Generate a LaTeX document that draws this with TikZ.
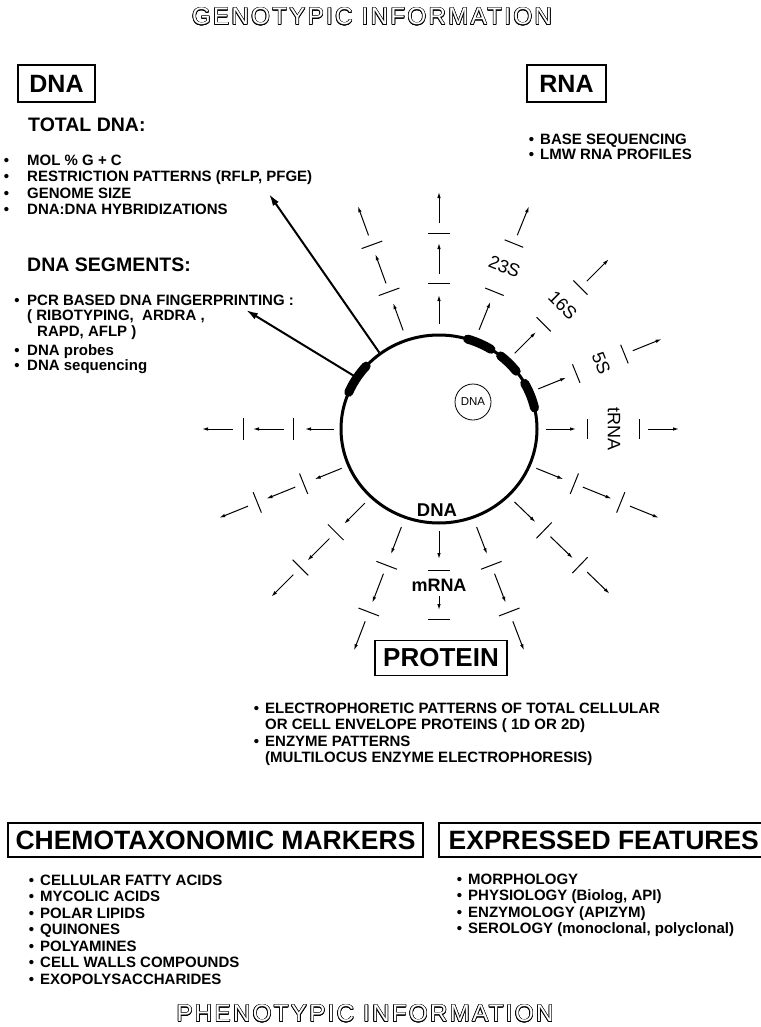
\documentclass[tikz,border=0pt]{standalone}
\usepackage{fontspec}
\setmainfont{Liberation Sans}
\newfontfamily\outlinefont[LetterSpace=10]{Liberation Sans}
\usepackage{contour}
\contourlength{0.6pt}
\usetikzlibrary{arrows.meta, shapes.geometric}

\newcommand{\fsz}[2]{\fontsize{#1}{#2}\selectfont}
\newcommand{\itm}[1][6pt]{\llap{\textbullet\hspace{#1}}}
\newcommand{\hollow}[1]{\contour{black}{\textcolor{white}{#1}}}

\begin{document}
\begin{tikzpicture}[
    x=1pt, y=-1pt,
    infotitle/.style={
        inner sep=0pt, font=\outlinefont\fsz{24}{24}},
    headbox/.style={
        rectangle, draw=black, line width=1.6pt, inner sep=0pt,
        minimum height=37pt, font=\bfseries\fsz{25}{25}},
    bigbox/.style={
        headbox, minimum height=34pt, font=\bfseries\fsz{26.5}{26.5}},
    heading/.style={
        anchor=west, inner sep=0pt, font=\bfseries\fsz{19.5}{20}},
    items/.style={
        anchor=north west, inner sep=0pt, align=left,
        font=\bfseries\fsz{15}{16.6}},
    rnalabel/.style={inner sep=0pt, font=\fsz{18}{18}},
    ray/.style={-{Latex[length=6pt,width=3.5pt]}, line width=1pt},
    tick/.style={line width=1pt},
    pointer/.style={-{Latex[length=12pt,width=7pt]}, line width=2pt},
    gene/.style={line width=9pt, line cap=round}
]
\useasboundingbox (0,0) rectangle (760,1027);

%% ── Titles ───────────────────────────────────────────────────────
\node[infotitle] (geno)  at (372,17)   {\hollow{GENOTYPIC INFORMATION}};
\node[infotitle] (pheno) at (365,1014) {\hollow{PHENOTYPIC INFORMATION}};

%% ── DNA column (left) ────────────────────────────────────────────
\node[headbox, minimum width=77pt] (dna) at (56.5,83.5) {DNA};
\node[heading] (total) at (28,124.5) {TOTAL DNA:};
\node[items] (totallist) at (27,154.5)
    {\itm[18pt]MOL \% G + C\\
     \itm[18pt]RESTRICTION PATTERNS (RFLP, PFGE)\\
     \itm[18pt]GENOME SIZE\\
     \itm[18pt]DNA:DNA HYBRIDIZATIONS};
\node[heading] (segments) at (27,265) {DNA SEGMENTS:};
\node[items, font=\bfseries\fsz{15}{15.8}] (seglist) at (27,294.5)
    {\itm[7.5pt]PCR BASED DNA FINGERPRINTING :\\
     ( RIBOTYPING,\ \ ARDRA ,\\
     \hspace*{10pt}RAPD, AFLP )\\[2.5pt]
     \itm[7.5pt]DNA probes\\
     \itm[7.5pt]DNA sequencing};

%% ── RNA (right) ──────────────────────────────────────────────────
\node[headbox, minimum width=79pt] (rna) at (566.5,83.5) {RNA};
\node[items, font=\bfseries\fsz{15}{15}] (rnalist) at (540,133.5)
    {\itm BASE SEQUENCING\\
     \itm LMW RNA PROFILES};

%% ── Chromosome ───────────────────────────────────────────────────
\node[ellipse, draw=black, line width=3pt, inner sep=0pt,
      minimum width=196pt, minimum height=188pt] (chrom) at (439,429) {};
\node[font=\bfseries\fsz{18.5}{18.5}, inner sep=0pt] (chromlabel)
    at (437,510) {DNA};
\node[circle, draw=black, line width=0.8pt, inner sep=0pt,
      minimum size=36pt, font=\fsz{11.5}{12}] (plasmid) at (473,402) {DNA};

%% ── Genes on the chromosome ──────────────────────────────────────
\begin{scope}[shift={(chrom.center)}, y=1pt]
    \draw[gene] (138:98 and 94) arc[start angle=138, end angle=157, x radius=98, y radius=94];
    \draw[gene] (58:98 and 94)  arc[start angle=58,  end angle=73,  x radius=98, y radius=94];
    \draw[gene] (38:98 and 94)  arc[start angle=38,  end angle=51,  x radius=98, y radius=94];
    \draw[gene] (13:98 and 94)  arc[start angle=13,  end angle=29,  x radius=98, y radius=94];
\end{scope}

%% ── Rays without a label ─────────────────────────────────────────
\begin{scope}[shift={(chrom.center)}]
\foreach \a in {90,110,180,202,225,249,291,316,338}{
    \begin{scope}[rotate=\a]
        \draw[ray]  (105,0) -- (134,0);
        \draw[tick] (146,-11) -- (146,11);
        \draw[ray]  (155,0) -- (186,0);
        \draw[tick] (196,-11) -- (196,11);
        \draw[ray]  (206,0) -- (237,0);
    \end{scope}
}

%% ── Rays with an RNA label ───────────────────────────────────────
\foreach \a/\lab in {68/23S, 45/16S, 22/5S, 0/tRNA}{
    \begin{scope}[rotate=\a]
        \draw[ray]  (107,0) -- (137,0);
        \draw[tick] (148,-10) -- (148,10);
        \node[rnalabel, rotate=\a-90] (lab-\lab) at (175,0) {\lab};
        \draw[tick] (200,-10) -- (200,10);
        \draw[ray]  (209,0) -- (240,0);
    \end{scope}
}

%% ── mRNA ray ─────────────────────────────────────────────────────
\begin{scope}[rotate=270]
    \draw[ray]  (102,0) -- (130,0);
    \draw[tick] (141,-11) -- (141,11);
    \node[rnalabel, font=\bfseries\fsz{18}{18}] (mrna) at (156,0) {mRNA};
    \draw[ray]  (167,0) -- (181,0);
    \draw[tick] (190,-11) -- (190,11);
\end{scope}
\end{scope}

%% ── Pointers from the genes to the methods ───────────────────────
\coordinate (rflp) at (269,194);
\coordinate (pcr)  at (246,310);
\draw[pointer] (chrom.128) -- (rflp);
\draw[pointer] (chrom.148) -- (pcr);

%% ── Protein ──────────────────────────────────────────────────────
\node[headbox, minimum width=132pt, minimum height=35pt, font=\bfseries\fsz{26}{26}]
    (protein) at (441,658) {PROTEIN};
\node[items] (protlist) at (265,702.5)
    {\itm ELECTROPHORETIC PATTERNS OF TOTAL CELLULAR\\
     OR CELL ENVELOPE PROTEINS ( 1D OR 2D)\\
     \itm ENZYME PATTERNS\\
     (MULTILOCUS ENZYME ELECTROPHORESIS)};

%% ── Phenotypic boxes ─────────────────────────────────────────────
\node[bigbox, minimum width=415pt] (chemo) at (215.5,840) {CHEMOTAXONOMIC MARKERS};
\node[items, font=\bfseries\fsz{15}{16.5}] (chemolist) at (40,874.5)
    {\itm CELLULAR FATTY ACIDS\\
     \itm MYCOLIC ACIDS\\
     \itm POLAR LIPIDS\\
     \itm QUINONES\\
     \itm POLYAMINES\\
     \itm CELL WALLS COMPOUNDS\\
     \itm EXOPOLYSACCHARIDES};

\node[bigbox, minimum width=330pt, anchor=west] (expr) at (438,840) {EXPRESSED FEATURES};
\node[items] (exprlist) at (468,873.5)
    {\itm MORPHOLOGY\\
     \itm PHYSIOLOGY (Biolog, API)\\
     \itm ENZYMOLOGY (APIZYM)\\
     \itm SEROLOGY (monoclonal, polyclonal)};

\end{tikzpicture}
\end{document}
